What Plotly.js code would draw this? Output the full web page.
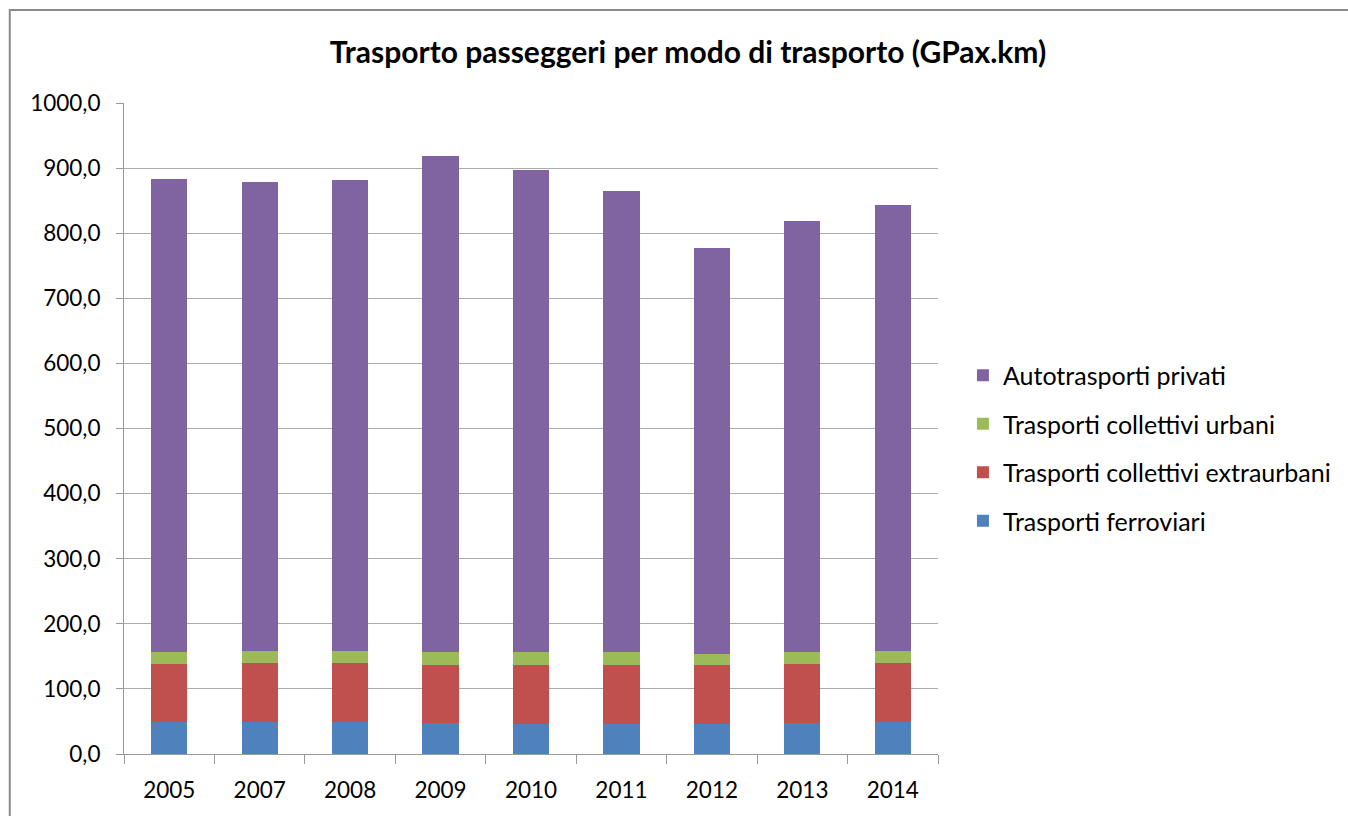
<!DOCTYPE html>
<html>
<head>
<meta charset="utf-8">
<script src="https://cdn.plot.ly/plotly-3.0.1.min.js"></script>
<style>
html,body{margin:0;padding:0;background:#fff;}
#chart{width:1348px;height:816px;}
</style>
</head>
<body>
<div id="chart"></div>
<script>
const years = ['2005','2007','2008','2009','2010','2011','2012','2013','2014'];
const ferroviari = [49.6, 49.6, 49.6, 47.1, 45.6, 46.1, 46.1, 47.6, 49.6];
const extraurbani = [89.1, 90.7, 90.7, 89.1, 90.6, 90.1, 90.1, 91.1, 90.7];
const urbani = [17.5, 17.9, 17.9, 20.0, 20.0, 20.0, 18.0, 17.5, 17.9];
const privati = [726.6, 720.4, 723.0, 762.4, 740.4, 709.1, 622.7, 662.0, 685.1];
const seriesNames = ['Trasporti ferroviari','Trasporti collettivi extraurbani','Trasporti collettivi urbani','Autotrasporti privati'];
const seriesValues = [ferroviari, extraurbani, urbani, privati];
const seriesColors = ['#4F81BD','#C0504D','#9BBB59','#8064A2'];
const titleText = 'Trasporto passeggeri per modo di trasporto (GPax.km)';

const FONT = 'Lato, "Open Sans", sans-serif';

const traces = seriesNames.map((n, i) => ({
  type: 'bar',
  name: n,
  x: years,
  y: seriesValues[i],
  legendgroup: 'g' + i,
  legendrank: 1000 - i * 100,
  marker: {color: seriesColors[i], line: {width: 0}},
  hoverinfo: 'x+y+name'
}));

const L = 124, R = 940, T = 103, B = 754, W = 1348, H = 816;
const pw = R - L, ph = B - T;

const layout = {
  width: W, height: H,
  margin: {l: L, r: W - R, t: T, b: H - B, pad: 0},
  paper_bgcolor: '#ffffff',
  plot_bgcolor: '#ffffff',
  barmode: 'stack',
  bargap: 0.6,
  separators: ',.',
  font: {family: FONT, color: '#000000', size: 22},
  title: {
    text: '<b>' + titleText + '</b>',
    font: {family: FONT, size: 30, color: '#000000'},
    x: 688 / W, xanchor: 'center', xref: 'container',
    y: 1 - 52 / H, yanchor: 'middle', yref: 'container'
  },
  xaxis: {
    type: 'category',
    showline: true, linecolor: '#9a9a9a', linewidth: 1,
    ticks: 'outside', tickson: 'boundaries', ticklen: 9, tickcolor: '#9a9a9a', tickwidth: 1,
    showgrid: false, zeroline: false,
    tickfont: {family: FONT, size: 22.5, color: '#000'},
    ticklabelstandoff: 16
  },
  yaxis: {
    range: [0, 1000], dtick: 100, tick0: 0,
    tickformat: '.1f',
    showline: true, linecolor: '#9a9a9a', linewidth: 1,
    ticks: 'outside', ticklen: 7, tickcolor: '#9a9a9a', tickwidth: 1,
    showgrid: true, gridcolor: '#ababab', gridwidth: 1,
    zeroline: false,
    tickfont: {family: FONT, size: 22.5, color: '#000'},
    ticklabelstandoff: 11
  },
  legend: {
    x: (965 - L) / pw, xanchor: 'left',
    y: (B - 448) / ph, yanchor: 'middle',
    traceorder: 'grouped',
    tracegroupgap: 13,
    font: {family: FONT, size: 25, color: '#000'},
    bgcolor: 'rgba(0,0,0,0)'
  },
  shapes: [{
    type: 'rect', xref: 'paper', yref: 'paper', layer: 'below',
    x0: (9.5 - L) / pw, x1: (W + 20 - L) / pw,
    y0: (B - (H + 20)) / ph, y1: 1 + (T - 10) / ph,
    line: {color: '#8a8a8a', width: 2}, fillcolor: 'rgba(0,0,0,0)'
  }]
};

Plotly.newPlot('chart', traces, layout, {displayModeBar: false, staticPlot: true});
</script>
</body>
</html>
